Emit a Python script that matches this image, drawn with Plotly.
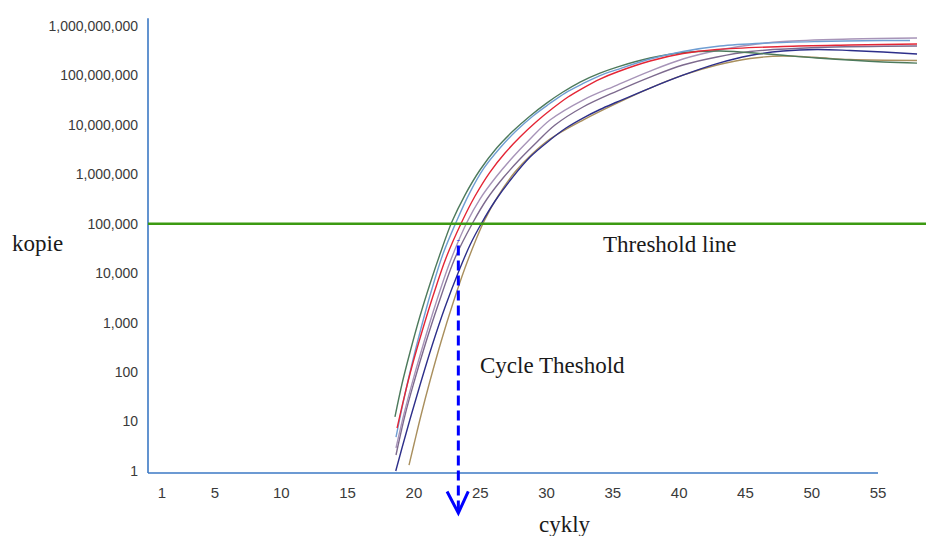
import math
import plotly.graph_objects as go

# ---------------- data ----------------
y_tickvals = [1, 10, 100, 1000, 10000, 100000, 1000000, 10000000, 100000000, 1000000000]
y_ticktext = ["1", "10", "100", "1,000", "10,000", "100,000", "1,000,000",
              "10,000,000", "100,000,000", "1,000,000,000"]
x_tickvals = [1, 5, 10, 15, 20, 25, 30, 35, 40, 45, 50, 55]
x_ticktext = [str(v) for v in x_tickvals]

threshold_copies = 1e5
cycle_threshold = 23.35

green_x = [18.57, 19.10, 19.71, 20.46, 21.21, 21.97, 22.85, 23.85, 24.98, 26.24, 27.47, 28.76,
           30.01, 31.24, 32.53, 34.03, 35.32, 37.81, 40.29, 43.08, 46.63, 50.40, 55.38, 57.94]
green_y = [12.4, 57.4, 255, 1360, 6040, 2.44e4, 1.07e5, 3.80e5, 1.22e6, 3.40e6, 7.48e6, 1.51e7,
           2.75e7, 4.60e7, 7.33e7, 1.11e8, 1.47e8, 2.24e8, 2.89e8, 3.10e8, 2.70e8, 2.24e8,
           1.86e8, 1.77e8]

blue_x = [18.65, 19.18, 19.78, 20.54, 21.29, 22.19, 23.18, 24.16, 25.29, 26.49, 27.70, 28.98,
          30.19, 31.40, 32.68, 34.03, 35.32, 37.81, 40.29, 43.08, 46.63, 50.40, 55.38, 57.41]
blue_y = [4.87, 23.7, 121, 778, 4160, 2.44e4, 1.07e5, 3.98e5, 1.34e6, 3.40e6, 7.48e6, 1.51e7,
          2.63e7, 4.39e7, 6.68e7, 9.9e7, 1.31e8, 2.14e8, 3.03e8, 3.92e8, 4.50e8, 4.83e8,
          5.06e8, 5.06e8]

red_x = [18.73, 19.25, 19.86, 20.69, 21.44, 22.42, 23.60, 24.61, 25.74, 26.87, 28.00, 29.21,
         30.49, 31.62, 32.75, 34.03, 35.32, 37.81, 40.29, 42.86, 47.84, 52.89, 57.94]
red_y = [7.4, 29.9, 133, 778, 3450, 2.03e4, 1.07e5, 3.63e5, 1.11e6, 2.69e6, 5.66e6, 1.14e7,
         2.18e7, 3.65e7, 5.54e7, 8.43e7, 1.17e8, 1.95e8, 2.76e8, 3.33e8, 3.83e8, 4.10e8, 4.30e8]

mauve1_x = [18.65, 19.25, 19.93, 20.76, 21.59, 22.72, 24.00, 24.98, 26.19, 27.47, 28.76, 30.26,
            32.75, 35.32, 37.81, 40.29, 42.86, 45.35, 47.84, 52.89, 57.94]
mauve1_y = [2.92, 14.2, 69, 406, 2170, 1.68e4, 1.07e5, 3.16e5, 8.8e5, 2.23e6, 5.16e6, 1.25e7,
            3.17e7, 6.37e7, 1.22e8, 2.14e8, 3.18e8, 4.10e8, 4.83e8, 5.42e8, 5.68e8]

mauve2_x = [18.65, 19.33, 20.01, 20.91, 21.82, 23.10, 24.46, 25.51, 26.72, 28.00, 29.28, 30.64,
            32.75, 35.32, 37.81, 40.29, 42.86, 45.35, 50.40, 57.94]
mauve2_y = [2.11, 13.6, 63, 406, 2270, 2.03e4, 1.07e5, 3.16e5, 8.4e5, 2.03e6, 4.49e6, 9.9e6,
            2.29e7, 4.82e7, 9.25e7, 1.62e8, 2.35e8, 3.03e8, 3.65e8, 3.92e8]

navy_x = [18.63, 19.10, 19.71, 20.46, 21.36, 22.35, 23.33, 24.23, 25.14, 26.12, 27.40, 28.76,
          30.26, 31.47, 32.75, 34.03, 35.32, 37.81, 40.29, 42.86, 45.35, 47.84, 50.40, 52.89,
          55.38, 57.94]
navy_y = [1.0, 2.92, 11.3, 54.8, 337, 2070, 1.01e4, 3.71e4, 1.07e5, 2.88e5, 8.4e5, 2.23e6,
          4.92e6, 8.61e6, 1.37e7, 2.04e7, 2.89e7, 5.54e7, 1.01e8, 1.73e8, 2.52e8, 3.10e8,
          3.33e8, 3.18e8, 2.96e8, 2.70e8]

brown_x = [19.63, 20.01, 20.54, 21.21, 22.04, 22.95, 23.85, 24.61, 25.29, 26.34, 27.62, 28.91,
           30.26, 32.75, 35.32, 37.81, 40.29, 42.86, 45.35, 47.84, 50.40, 52.89, 57.94]
brown_y = [1.32, 3.52, 13.6, 66, 406, 2490, 1.27e4, 4.27e4, 1.13e5, 3.63e5, 1.11e6, 2.57e6,
           5.16e6, 1.25e7, 2.75e7, 5.54e7, 1.01e8, 1.62e8, 2.19e8, 2.46e8, 2.29e8, 2.09e8, 2.0e8]

# ---------------- styling ----------------
X_RANGE = [-0.053, 59.22]
Y_RANGE = [-0.04, 9.2]
AXIS_COLOR = "#3b78c4"
SERIF = "Liberation Serif"
SANS = "Liberation Sans"


def xp(c):
    return (c - X_RANGE[0]) / (X_RANGE[1] - X_RANGE[0])


def yp(v):
    return (math.log10(v) - Y_RANGE[0]) / (Y_RANGE[1] - Y_RANGE[0])


series = [
    (brown_x, brown_y, "#a98f5d"),
    (navy_x, navy_y, "#2d2f8a"),
    (mauve2_x, mauve2_y, "#7d6a8e"),
    (mauve1_x, mauve1_y, "#a794b8"),
    (green_x, green_y, "#4d7a5c"),
    (blue_x, blue_y, "#6f9ed3"),
    (red_x, red_y, "#e42535"),
]

fig = go.Figure()
for xs, ys, col in series:
    fig.add_trace(go.Scatter(x=xs, y=ys, mode="lines",
                             line=dict(color=col, width=1.4, shape="spline", smoothing=1.0),
                             showlegend=False, hoverinfo="skip"))

shapes = [
    # x axis line (to cycle 55)
    dict(type="line", xref="paper", yref="paper", x0=0, x1=xp(55), y0=0, y1=0,
         line=dict(color=AXIS_COLOR, width=1.6)),
    # y axis line
    dict(type="line", xref="paper", yref="paper", x0=0, x1=0, y0=0, y1=0.995,
         line=dict(color=AXIS_COLOR, width=1.6)),
    # threshold line
    dict(type="line", xref="paper", yref="paper", x0=0, x1=1,
         y0=yp(threshold_copies), y1=yp(threshold_copies),
         line=dict(color="#3c9a12", width=2.6)),
    # cycle threshold dashed arrow
    dict(type="line", xref="paper", yref="paper", x0=xp(cycle_threshold), x1=xp(cycle_threshold),
         y0=-0.082, y1=0.51, line=dict(color="#0000ff", width=3, dash="10px,5px")),
    dict(type="path", xref="paper", yref="paper",
         path=("M {a},{b} L {c},{d} L {e},{f}".format(
             a=xp(cycle_threshold - 0.85), b=-0.0404,
             c=xp(cycle_threshold), d=-0.0875,
             e=xp(cycle_threshold + 0.75), f=-0.0404)),
         line=dict(color="#0000ff", width=3)),
]

text_font = dict(family=SERIF, size=23, color="#1a1a1a")
annotations = [
    dict(text="kopie", xref="paper", yref="paper", x=-0.1406, y=0.503,
         showarrow=False, font=text_font, xanchor="center", yanchor="middle"),
    dict(text="cykly", xref="paper", yref="paper", x=0.5305, y=-0.112,
         showarrow=False, font=text_font, xanchor="center", yanchor="middle"),
    dict(text="Threshold line", xref="paper", yref="paper", x=0.6635, y=0.501,
         showarrow=False, font=text_font, xanchor="center", yanchor="middle"),
    dict(text="Cycle Theshold", xref="paper", yref="paper", x=0.5146, y=0.2363,
         showarrow=False, font=text_font, xanchor="center", yanchor="middle"),
]

# the page body adds an 8px offset, so the figure is 8px smaller and margins shifted
fig.update_layout(
    width=926, height=528,
    margin=dict(l=140, r=0, t=8, b=63),
    paper_bgcolor="white", plot_bgcolor="white",
    shapes=shapes, annotations=annotations,
    xaxis=dict(range=X_RANGE, tickvals=x_tickvals, ticktext=x_ticktext,
               showline=False, showgrid=False, zeroline=False, ticks="",
               tickfont=dict(family=SANS, size=15, color="#3a3a3a"),
               ticklabelstandoff=9),
    yaxis=dict(type="log", range=Y_RANGE, tickvals=y_tickvals, ticktext=y_ticktext,
               showline=False, showgrid=False, zeroline=False, ticks="",
               tickfont=dict(family=SANS, size=14, color="#3a3a3a"),
               ticklabelstandoff=9),
)

fig.write_html("out.html")
